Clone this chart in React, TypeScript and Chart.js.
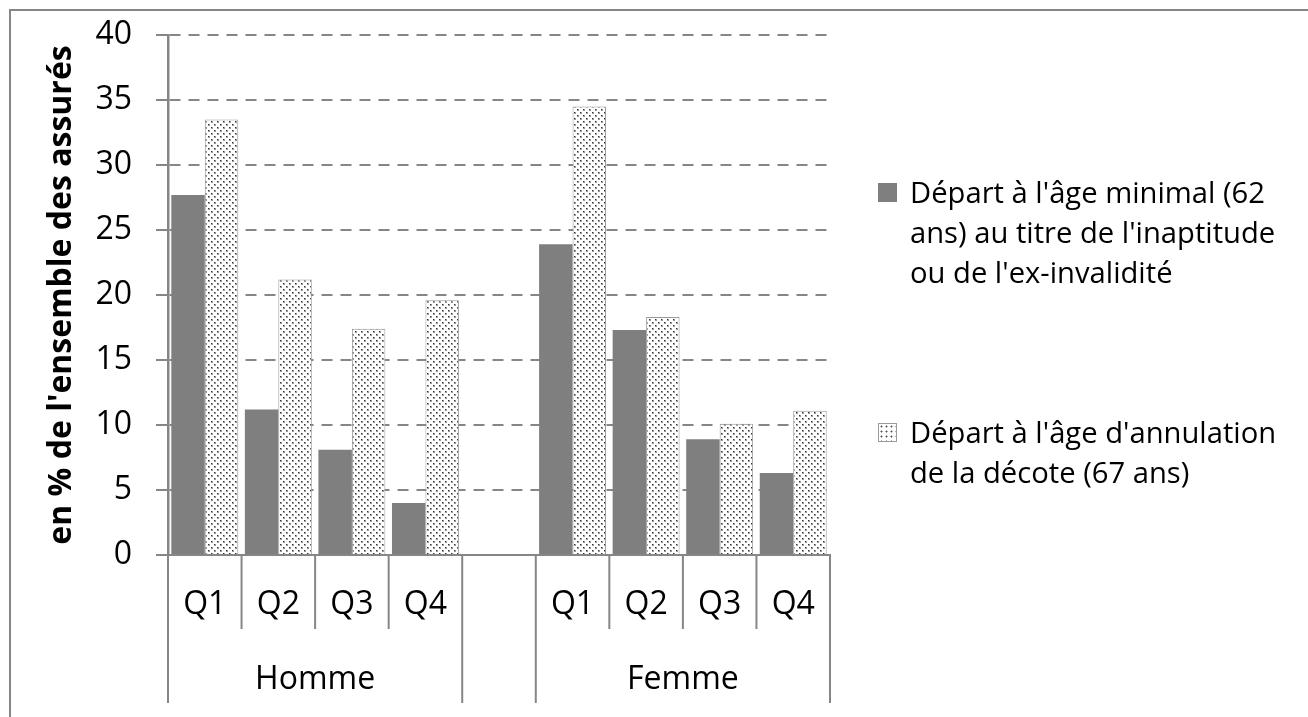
import React, { useEffect, useRef } from "react";
import { Chart, registerables } from "chart.js";

Chart.register(...registerables);

const categories = ["Q1", "Q2", "Q3", "Q4", "", "Q1", "Q2", "Q3", "Q4"];
const groupLabels = ["Homme", "Femme"];
const seriesMinimal = [27.7, 11.2, 8.1, 4.0, null, 23.9, 17.3, 8.9, 6.3];
const seriesAnnulation = [33.5, 21.2, 17.4, 19.6, null, 34.5, 18.3, 10.1, 11.1];
const legendMinimal = ["Départ à l'âge minimal (62", "ans) au titre de l'inaptitude", "ou de l'ex-invalidité"];
const legendAnnulation = ["Départ à l'âge d'annulation", "de la décote (67 ans)"];
const yTitle = "en % de l'ensemble des assurés";

const FONT = "'Open Sans', sans-serif";
const GRAY = "#868686";
const DARK = "#7f7f7f";

function makePattern(): CanvasPattern | string {
  const c = document.createElement("canvas");
  c.width = 6;
  c.height = 6;
  const g = c.getContext("2d");
  if (!g) return "#ddd";
  g.fillStyle = "#ffffff";
  g.fillRect(0, 0, 6, 6);
  g.fillStyle = "#9a9a9a";
  g.fillRect(1, 1, 2, 2);
  g.fillRect(4, 4, 2, 2);
  g.fillStyle = "#333333";
  g.fillRect(1, 1, 1, 1);
  g.fillRect(4, 4, 1, 1);
  const p = g.createPattern(c, "repeat");
  return p || "#ddd";
}

const multiLevelPlugin = {
  id: "multiLevel",
  afterDraw(chart: any) {
    const { ctx, chartArea } = chart;
    const xs = chart.scales.x;
    const px = (i: number) => xs.getPixelForValue(i);
    const bottom = chartArea.bottom;
    const bound = (i: number) => (px(i) + px(i + 1)) / 2;
    ctx.save();
    ctx.strokeStyle = GRAY;
    ctx.lineWidth = 2;
    const line = (x: number, y2: number) => {
      ctx.beginPath();
      ctx.moveTo(x, bottom);
      ctx.lineTo(x, y2);
      ctx.stroke();
    };
    [0, 1, 2, 5, 6, 7].forEach((i) => line(bound(i), bottom + 74));
    [chartArea.left, bound(3), bound(4), chartArea.right].forEach((x) => line(x, bottom + 148));

    ctx.fillStyle = "#000";
    ctx.font = `32px ${FONT}`;
    ctx.textAlign = "center";
    ctx.textBaseline = "middle";
    categories.forEach((c, i) => {
      if (c) ctx.fillText(c, px(i), bottom + 50);
    });
    ctx.fillText(groupLabels[0], (chartArea.left + bound(3)) / 2, bottom + 125);
    ctx.fillText(groupLabels[1], (bound(4) + chartArea.right) / 2, bottom + 125);

    ctx.translate(62, (chartArea.top + chartArea.bottom) / 2);
    ctx.rotate(-Math.PI / 2);
    ctx.font = `bold 32px ${FONT}`;
    ctx.fillText(yTitle, 0, 0);
    ctx.restore();
  },
};

export default function App() {
  const ref = useRef<HTMLCanvasElement | null>(null);
  useEffect(() => {
    if (!ref.current) return;
    const pattern = makePattern();
    const chart = new Chart(ref.current, {
      type: "bar",
      data: {
        labels: categories,
        datasets: [
          {
            label: legendMinimal.join(" "),
            data: seriesMinimal,
            backgroundColor: DARK,
            borderWidth: 0,
            categoryPercentage: 0.91,
            barPercentage: 1,
          },
          {
            label: legendAnnulation.join(" "),
            data: seriesAnnulation,
            backgroundColor: pattern as any,
            borderColor: "#9a9a9a",
            borderWidth: 1,
            categoryPercentage: 0.91,
            barPercentage: 1,
          },
        ],
      },
      options: {
        responsive: false,
        animation: false,
        layout: { autoPadding: false, padding: { left: 0, top: 35, right: 478, bottom: 0 } },
        plugins: { legend: { display: false }, tooltip: { enabled: false } },
        scales: {
          x: {
            grid: { display: false },
            border: { display: true, color: GRAY, width: 2 },
            ticks: { display: false },
            afterFit: (s: any) => {
              s.height = 162;
              s.paddingLeft = 0;
              s.paddingRight = 0;
            },
          },
          y: {
            min: 0,
            max: 40,
            ticks: {
              stepSize: 5,
              color: "#000",
              font: { family: FONT, size: 32 },
              padding: 24,
            },
            grid: { color: GRAY, lineWidth: 2, tickLength: 12, tickColor: GRAY },
            border: { display: true, color: GRAY, width: 2.5, dash: [11, 8] },
            afterFit: (s: any) => {
              s.width = 168;
              s.paddingTop = 0;
              s.paddingBottom = 0;
            },
          },
        },
      },
      plugins: [multiLevelPlugin],
    });
    return () => chart.destroy();
  }, []);

  const legendText: React.CSSProperties = {
    position: "absolute",
    left: 910,
    fontFamily: FONT,
    fontSize: 29.2,
    lineHeight: "40px",
    color: "#000",
    whiteSpace: "nowrap",
  };

  return (
    <div style={{ position: "absolute", left: 0, top: 0, width: 1308, height: 717, overflow: "hidden", background: "#fff" }}>
      <canvas ref={ref} width={1308} height={717} style={{ position: "absolute", left: 0, top: 0 }} />
      <div
        style={{
          position: "absolute",
          left: 9,
          top: 9,
          width: 1400,
          height: 800,
          border: `2px solid ${GRAY}`,
          pointerEvents: "none",
        }}
      />
      <div style={{ position: "absolute", left: 878, top: 183, width: 19, height: 19, background: DARK }} />
      <div style={{ ...legendText, top: 172 }}>
        {legendMinimal.map((t, i) => (
          <div key={i}>{t}</div>
        ))}
      </div>
      <div
        style={{
          position: "absolute",
          left: 878,
          top: 423,
          width: 17,
          height: 17,
          border: "1px solid #9a9a9a",
          backgroundColor: "#fff",
          backgroundImage: "radial-gradient(#555 0.8px, transparent 1.2px)",
          backgroundSize: "5px 5px",
        }}
      />
      <div style={{ ...legendText, top: 412 }}>
        {legendAnnulation.map((t, i) => (
          <div key={i}>{t}</div>
        ))}
      </div>
    </div>
  );
}
